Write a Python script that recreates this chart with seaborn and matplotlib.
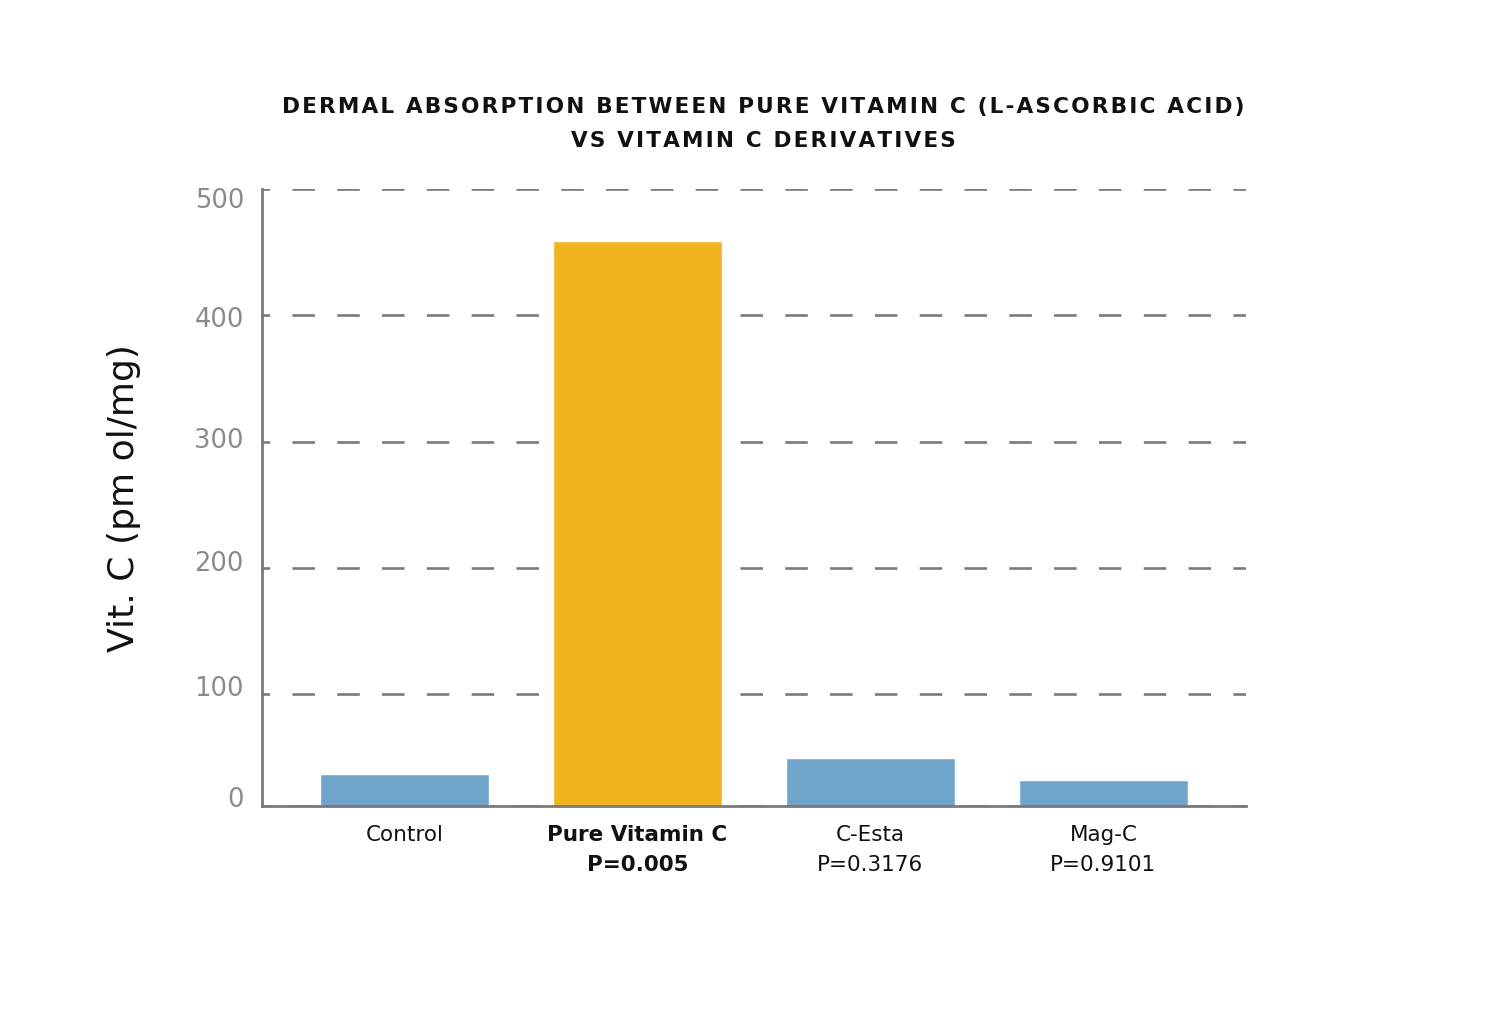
import matplotlib
matplotlib.use("Agg")
import matplotlib.pyplot as plt
import matplotlib.transforms as mtransforms
import seaborn as sns
import pandas as pd

# values
categories = ["Control", "Pure Vitamin C", "C-Esta", "Mag-C"]
p_values = ["", "P=0.005", "P=0.3176", "P=0.9101"]
vit_c = [36.5, 459, 49, 32]
bar_colors = ["#6FA5CA", "#F0B420", "#6FA5CA", "#6FA5CA"]
ytick_vals = [11.3, 100, 200, 300, 400, 500]
ytick_labels = ["0", "100", "200", "300", "400", "500"]
title_lines = ["DERMAL ABSORPTION BETWEEN PURE VITAMIN C (L-ASCORBIC ACID)",
               "VS VITAMIN C DERIVATIVES"]

sns.set_theme(style="white")
plt.rcParams["font.family"] = ["DejaVu Sans"]
plt.rcParams["lines.scale_dashes"] = False

gray = "#7A7A7A"
df = pd.DataFrame({"cat": categories, "val": vit_c})

fig = plt.figure(figsize=(15, 10.27), dpi=100)
ax = fig.add_axes([262 / 1500, 1 - 806 / 1027, 984 / 1500, 617 / 1027])

sns.barplot(data=df, x="cat", y="val", hue="cat", palette=bar_colors,
            width=0.725, saturation=1, legend=False, ax=ax, zorder=3)

ax.set_xlim(-0.612, 3.612)
ax.set_ylim(11.3, 500)
ax.set_yticks(ytick_vals)
ax.set_yticklabels(ytick_labels)

ax.set_axisbelow(True)
ax.yaxis.grid(True, color=gray, linewidth=1.9,
              linestyle=(10.7, (16.2, 16.06)))
ax.xaxis.grid(False)

for s in ["top", "right"]:
    ax.spines[s].set_visible(False)
for s in ["left", "bottom"]:
    ax.spines[s].set_color(gray)
    ax.spines[s].set_linewidth(2)
    ax.spines[s].set_zorder(4)

ax.tick_params(axis="y", direction="in", length=0, pad=13,
               labelsize=18.5, labelcolor="#8A8A8A")
ax.tick_params(axis="x", length=0, pad=14, labelsize=15.5, labelcolor="#111111")

# the y labels in the original sit a little off their gridlines
label_shift_px = [9, 8, 7, 4, -2, -9]
for lab, dy in zip(ax.get_yticklabels(), label_shift_px):
    lab.set_transform(lab.get_transform() +
                      mtransforms.ScaledTranslation(0, dy / 100, fig.dpi_scale_trans))

xlabels = [c if p == "" else c + "\n" + p for c, p in zip(categories, p_values)]
ax.set_xticks(range(len(categories)))
ax.set_xticklabels(xlabels, linespacing=1.6, va="top")
ax.get_xticklabels()[1].set_fontweight("bold")

ax.set_xlabel("")
ax.set_ylabel("Vit. C (pm ol/mg)", fontsize=26, color="#111111")
ax.yaxis.label.set_va("center")
ax.yaxis.set_label_coords((124 - 262) / 984, (806 - 498) / 617)

hair = "\u200a"
for i, line in enumerate(title_lines):
    fig.text(763 / 1500, 1 - (107 + 34 * i) / 1027, hair.join(line),
             ha="center", va="center", fontsize=15.6, fontweight="bold",
             color="#111111")

fig.savefig("out.png", dpi=100)
